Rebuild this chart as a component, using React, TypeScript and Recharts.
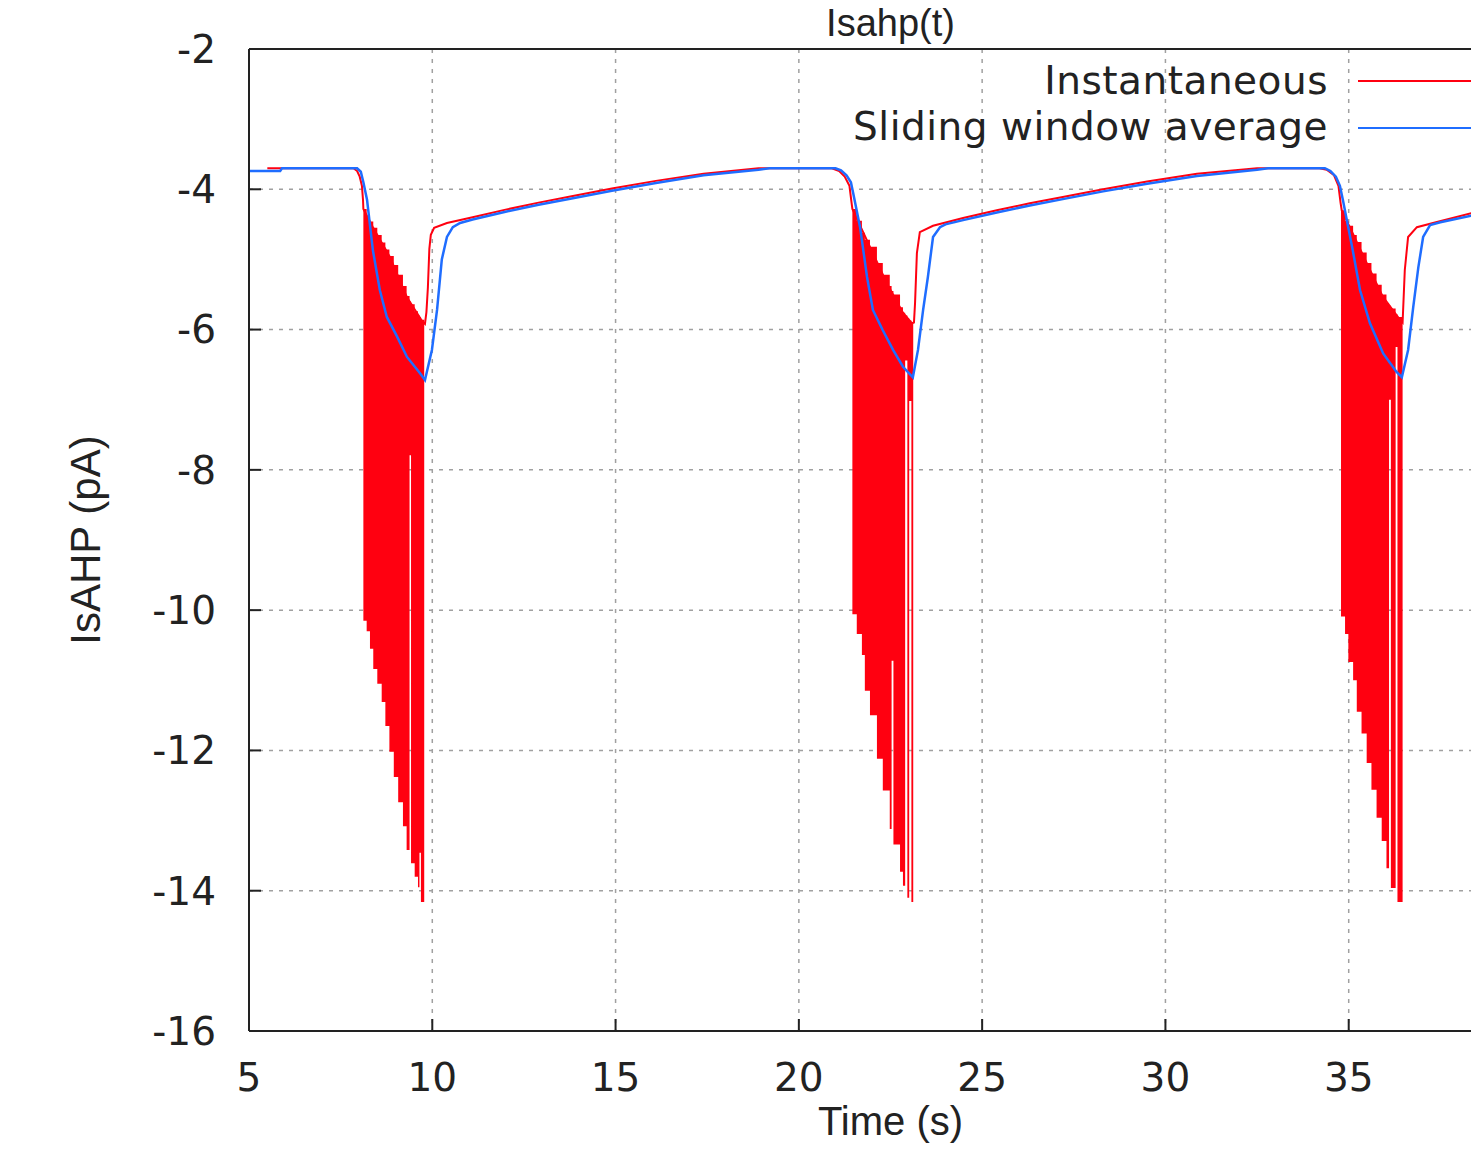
import React from "react";
import {
  ComposedChart,
  Line,
  Area,
  XAxis,
  YAxis,
  CartesianGrid,
  Legend,
  ReferenceLine,
} from "recharts";

// Instantaneous Isahp (upper trace, between spikes)
const instTime = [
  5.5, 7.85, 7.95, 8.02, 8.08, 8.11, 8.12, 8.38, 8.85, 9.31, 9.72, 9.8, 9.84, 9.88, 9.92, 9.96, 10.05,
  10.4, 11.1, 12.0, 12.9, 13.8, 14.9, 16.1, 17.4, 18.9, 20.9, 21.1, 21.25, 21.38, 21.44, 21.46, 21.94,
  22.4, 22.84, 23.08, 23.14, 23.17, 23.22, 23.3, 23.66, 24.48, 25.4, 26.3, 27.2, 28.3, 29.5, 30.86,
  32.5, 34.2, 34.4, 34.6, 34.72, 34.78, 34.81, 35.03, 35.49, 35.93, 36.4, 36.47, 36.53, 36.62, 36.86,
  37.3, 38.5,
];
const instValue = [
  -3.7, -3.7, -3.74, -3.82, -3.95, -4.15, -4.28, -4.54, -4.97, -5.54, -5.88, -5.92, -5.75, -5.4, -4.85,
  -4.65, -4.55, -4.48, -4.4, -4.29, -4.19, -4.1, -3.99, -3.88, -3.78, -3.7, -3.7, -3.74, -3.82, -3.95,
  -4.2, -4.28, -4.82, -5.34, -5.76, -5.91, -5.9, -5.62, -4.91, -4.61, -4.52, -4.41, -4.3, -4.2, -4.11,
  -4.0, -3.89, -3.78, -3.7, -3.7, -3.72, -3.8, -3.95, -4.2, -4.3, -4.54, -5.05, -5.53, -5.86, -5.9,
  -5.15, -4.68, -4.54, -4.48, -4.32,
];

// Sliding window average
const avgTime = [
  5.0, 5.85, 5.9, 7.95, 8.05, 8.12, 8.22, 8.38, 8.57, 8.76, 9.04, 9.31, 9.66, 9.8, 9.99, 10.13, 10.26,
  10.4, 10.56, 10.76, 11.1, 12.0, 12.9, 13.8, 14.9, 16.1, 17.4, 18.9, 19.2, 21.0, 21.15, 21.3, 21.42,
  21.48, 21.67, 21.86, 22.02, 22.29, 22.57, 22.84, 23.11, 23.25, 23.39, 23.52, 23.66, 23.85, 24.0,
  24.48, 25.4, 26.3, 27.2, 28.3, 29.5, 30.86, 32.5, 32.8, 34.35, 34.5, 34.65, 34.76, 34.84, 35.11,
  35.31, 35.58, 35.94, 36.3, 36.45, 36.62, 36.76, 36.9, 37.03, 37.22, 37.5, 38.5,
];
const avgValue = [
  -3.74, -3.74, -3.7, -3.7, -3.75, -3.9, -4.15, -4.87, -5.44, -5.82, -6.1, -6.39, -6.62, -6.72, -6.29,
  -5.72, -5.0, -4.68, -4.54, -4.48, -4.43, -4.32, -4.22, -4.13, -4.02, -3.91, -3.8, -3.72, -3.7, -3.7,
  -3.73, -3.8, -3.9, -4.05, -4.54, -5.25, -5.72, -6.01, -6.29, -6.53, -6.68, -6.29, -5.72, -5.25,
  -4.68, -4.54, -4.5, -4.44, -4.33, -4.23, -4.14, -4.03, -3.92, -3.81, -3.72, -3.7, -3.7, -3.74, -3.82,
  -3.95, -4.15, -4.87, -5.44, -5.91, -6.34, -6.6, -6.68, -6.29, -5.68, -5.11, -4.68, -4.51, -4.47,
  -4.36,
];

// Spike bursts of the instantaneous trace: lower and upper envelope
const burst1Time = [8.12, 8.21, 8.3, 8.39, 8.5, 8.62, 8.72, 8.83, 8.95, 9.07, 9.2, 9.3, 9.38, 9.42, 9.52, 9.61, 9.65, 9.69, 9.78];
const burst1Low = [-10.15, -10.3, -10.55, -10.84, -11.05, -11.31, -11.65, -12.02, -12.38, -12.74, -13.08, -13.42, -7.79, -13.61, -13.8, -13.95, -13.46, -14.16, -14.16];
const burst1High = [-4.28, -4.38, -4.46, -4.55, -4.65, -4.76, -4.86, -4.95, -5.08, -5.22, -5.38, -5.52, -5.6, -5.64, -5.74, -5.8, -5.82, -5.86, -5.9];

const burst2Time = [21.46, 21.58, 21.72, 21.8, 21.94, 22.13, 22.29, 22.48, 22.53, 22.58, 22.76, 22.84, 22.9, 22.96, 23.01, 23.07, 23.12];
const burst2Low = [-10.06, -10.34, -10.64, -11.15, -11.5, -12.12, -12.57, -13.12, -10.72, -13.34, -13.73, -13.93, -6.44, -14.1, -7.02, -14.16, -14.16];
const burst2High = [-4.28, -4.45, -4.62, -4.72, -4.82, -5.05, -5.22, -5.38, -5.45, -5.5, -5.68, -5.76, -5.8, -5.84, -5.87, -5.9, -5.91];

const burst3Time = [34.79, 34.9, 34.99, 35.12, 35.22, 35.35, 35.49, 35.62, 35.76, 35.9, 36.03, 36.1, 36.15, 36.28, 36.33, 36.47];
const burst3Low = [-10.09, -10.34, -10.74, -11.0, -11.45, -11.76, -12.18, -12.56, -12.96, -13.29, -13.68, -7.0, -13.96, -6.25, -14.16, -14.16];
const burst3High = [-4.3, -4.45, -4.52, -4.65, -4.75, -4.9, -5.05, -5.2, -5.36, -5.5, -5.62, -5.66, -5.7, -5.78, -5.82, -5.9];

const xTicks = [5, 10, 15, 20, 25, 30, 35];
const yTicks = [-16, -14, -12, -10, -8, -6, -4, -2];

const seriesNames = ["Instantaneous", "Sliding window average"];
const seriesColors = ["#ff0010", "#1f6dff"];

const instData = instTime.map((t, i) => ({ t, inst: instValue[i] }));
const avgData = avgTime.map((t, i) => ({ t, avg: avgValue[i] }));
const toBand = (time: number[], low: number[], high: number[]) =>
  time.map((t, i) => ({ t, band: [low[i], high[i]] }));
const bursts = [
  toBand(burst1Time, burst1Low, burst1High),
  toBand(burst2Time, burst2Low, burst2High),
  toBand(burst3Time, burst3Low, burst3High),
];

const tickFont = { fontFamily: "DejaVu Sans", fontSize: 39, fill: "#222" };
const labelFont = { fontFamily: "Liberation Sans", fontSize: 40, fill: "#222" };

function KeyBox() {
  const rows = [
    { top: 61, lineY: 80 },
    { top: 107, lineY: 127 },
  ];
  return (
    <div style={{ position: "relative", width: 1600, height: 0 }}>
      {seriesNames.map((name, i) => (
        <React.Fragment key={name}>
          <span
            style={{
              position: "absolute",
              right: 1600 - 1328,
              top: rows[i].top,
              fontFamily: "DejaVu Sans",
              fontSize: 39,
              lineHeight: "39px",
              letterSpacing: 0.5,
              color: "#222",
              whiteSpace: "nowrap",
            }}
          >
            {name}
          </span>
          <span
            style={{
              position: "absolute",
              left: 1358,
              top: rows[i].lineY,
              width: 160,
              height: 2,
              background: seriesColors[i],
            }}
          />
        </React.Fragment>
      ))}
    </div>
  );
}

export default function App() {
  return (
    <div
      style={{
        position: "fixed",
        left: 0,
        top: 0,
        width: 1471,
        height: 1150,
        overflow: "hidden",
        background: "#fff",
      }}
    >
      <ComposedChart width={1600} height={1150} margin={{ top: 48, right: 68, bottom: 9, left: 0 }}>
        <CartesianGrid stroke="#a0a0a0" strokeWidth={1.5} strokeDasharray="4 6" />
        <XAxis
          dataKey="t"
          type="number"
          domain={[5, 40]}
          ticks={xTicks}
          height={110}
          tickSize={-12}
          tickMargin={44}
          tick={tickFont}
          stroke="#222"
          strokeWidth={2}
          allowDataOverflow
          label={{ value: "Time (s)", position: "insideBottom", offset: 6, style: labelFont }}
        />
        <XAxis
          xAxisId="top"
          orientation="top"
          dataKey="t"
          type="number"
          domain={[5, 40]}
          ticks={xTicks}
          height={1}
          tickSize={-12}
          tick={false}
          stroke="#222"
          strokeWidth={2}
          allowDataOverflow
          label={{ value: "Isahp(t)", position: "top", offset: 12, style: { ...labelFont, fontSize: 38 } }}
        />
        <YAxis
          type="number"
          domain={[-16, -2]}
          ticks={yTicks}
          width={249}
          tickSize={-12}
          tickMargin={45}
          tick={tickFont}
          tickFormatter={(v) => String(v)}
          stroke="#222"
          strokeWidth={2}
          allowDataOverflow
          label={{
            value: "IsAHP (pA)",
            angle: -90,
            position: "insideLeft",
            offset: 85,
            style: { ...labelFont, fontSize: 42, textAnchor: "middle" },
          }}
        />
        <ReferenceLine y={-2} stroke="#222" strokeWidth={2} />
        {bursts.map((b, i) => (
          <Area
            key={i}
            data={b}
            dataKey="band"
            type="stepAfter"
            stroke="none"
            fill={seriesColors[0]}
            fillOpacity={1}
            isAnimationActive={false}
            activeDot={false}
          />
        ))}
        <Line
          data={instData}
          dataKey="inst"
          type="linear"
          stroke={seriesColors[0]}
          strokeWidth={2}
          dot={false}
          activeDot={false}
          isAnimationActive={false}
        />
        <Line
          data={avgData}
          dataKey="avg"
          type="linear"
          stroke={seriesColors[1]}
          strokeWidth={2.5}
          dot={false}
          activeDot={false}
          isAnimationActive={false}
        />
        <Legend
          layout="horizontal"
          verticalAlign="middle"
          align="center"
          content={() => <KeyBox />}
          wrapperStyle={{ position: "absolute", left: 0, top: 0, width: 1600, height: 0 }}
        />
      </ComposedChart>
    </div>
  );
}
